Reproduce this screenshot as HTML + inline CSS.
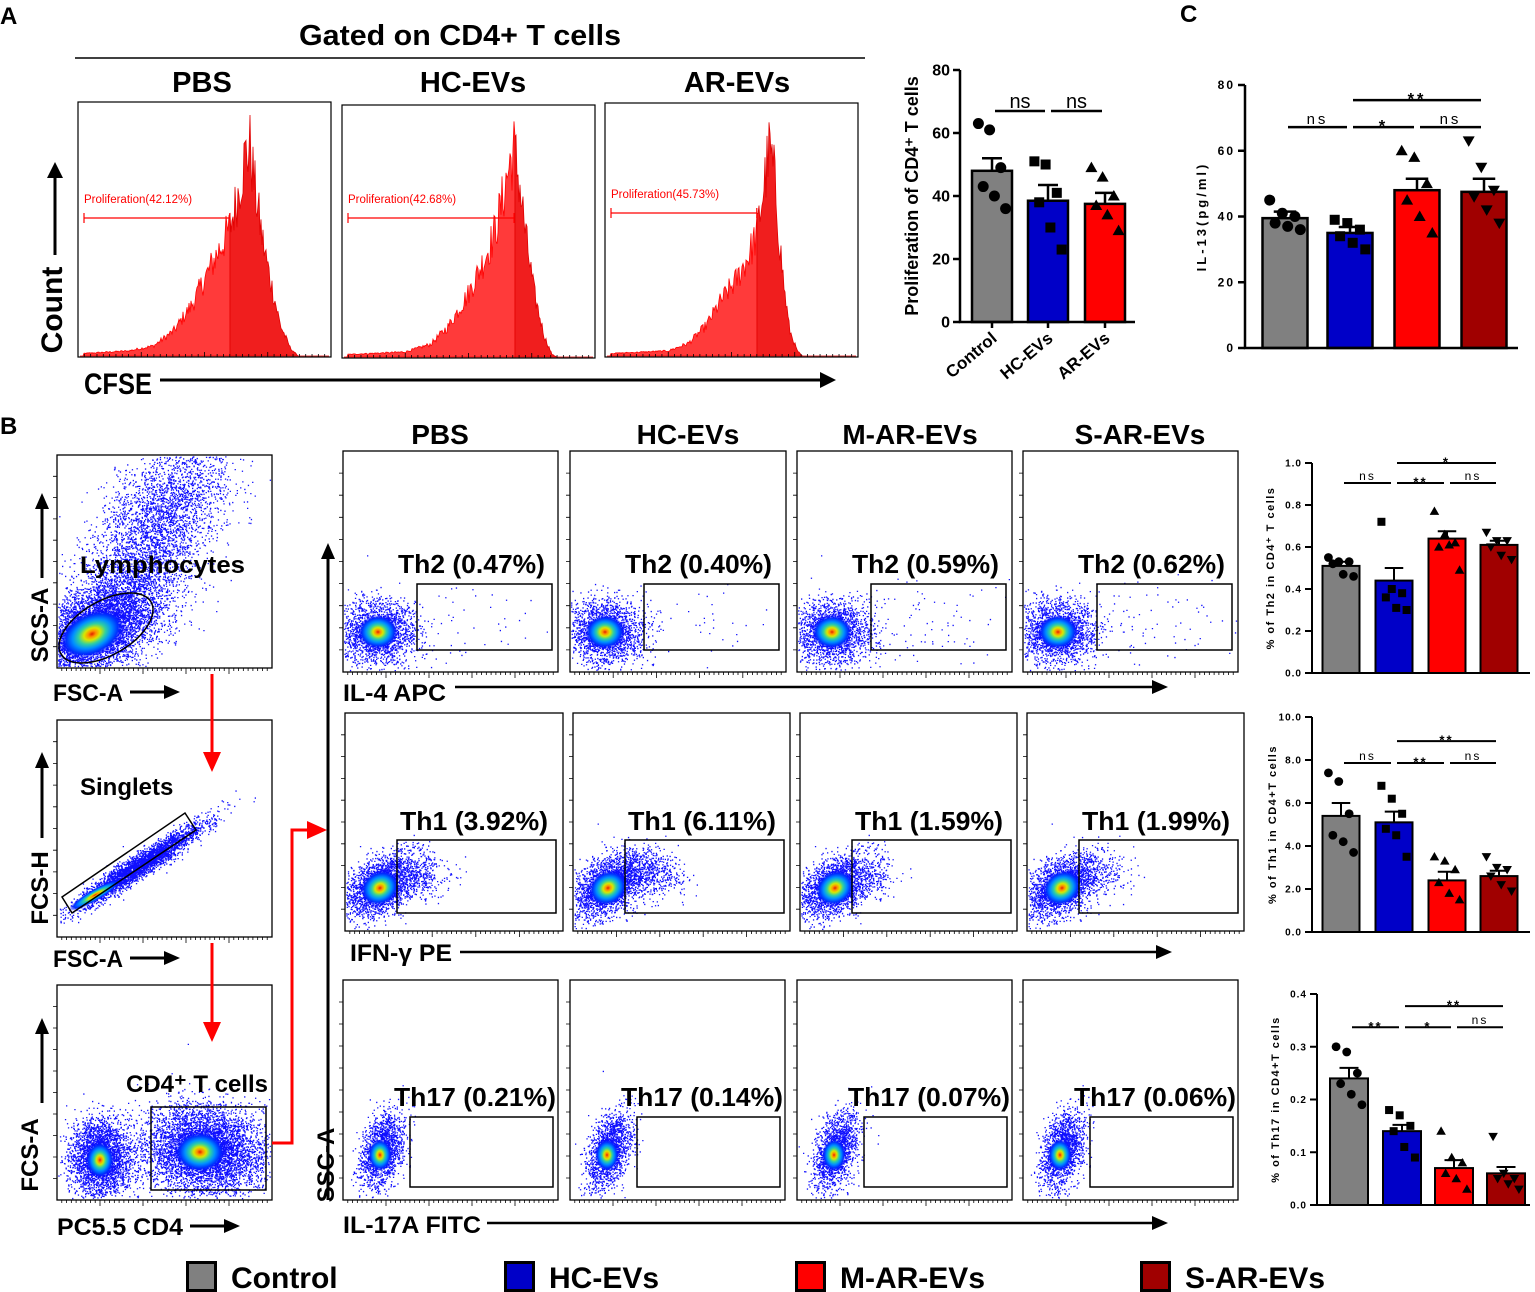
<!DOCTYPE html>
<html><head><meta charset="utf-8"><style>
html,body{margin:0;padding:0;background:#fff}
svg{display:block;font-family:"Liberation Sans",sans-serif}
</style></head><body>
<svg id="fig" width="1535" height="1292" viewBox="0 0 1535 1292" xmlns="http://www.w3.org/2000/svg">
<defs>
<radialGradient id="dens" cx="50%" cy="50%" r="50%">
<stop offset="0" stop-color="#e02000"/><stop offset="0.12" stop-color="#ff9000"/><stop offset="0.25" stop-color="#d8e800"/><stop offset="0.42" stop-color="#30d0a0"/><stop offset="0.6" stop-color="#0090ff"/><stop offset="0.8" stop-color="#0030ff"/><stop offset="1" stop-color="#0000ff" stop-opacity="0"/>
</radialGradient>
</defs>
</svg>
<script>
// ---------- chart data ----------
const groupsA = ['Control','HC-EVs','AR-EVs'];
const meansA = [48, 38.5, 37.5];
const semA = [4, 5, 3.5];
const ptsA = [[63,61,49,43,40,36],[51,50,41,38,30,23],[49,46,40,37,34,29]];
const ticksA = [0,20,40,60,80];

const groupsC = ['Control','HC-EVs','M-AR-EVs','S-AR-EVs'];
const meansC = [39.5, 35, 48, 47.5];
const semC = [2, 1.8, 3.5, 4];
const ptsC = [[45,41,40,38,37,36],[39,38,36,34,32,30],[60,58,50,45,40,35],[63,55,48,46,42,38]];
const ticksC = [0,20,40,60,80];

const meansTh2 = [0.51, 0.44, 0.64, 0.61];
const semTh2 = [0.02, 0.06, 0.035, 0.02];
const ptsTh2 = [[0.55,0.53,0.53,0.52,0.47,0.46],[0.72,0.40,0.38,0.36,0.31,0.30],[0.77,0.66,0.62,0.60,0.61,0.49],[0.67,0.63,0.63,0.60,0.56,0.54]];
const ticksTh2 = [0,0.2,0.4,0.6,0.8,1.0];

const meansTh1 = [5.4, 5.1, 2.4, 2.6];
const semTh1 = [0.6, 0.5, 0.4, 0.25];
const ptsTh1 = [[7.4,7.0,5.5,4.5,4.2,3.7],[6.8,6.2,5.5,4.8,4.5,3.5],[3.5,3.3,2.9,2.3,1.8,1.5],[3.5,3.0,2.9,2.6,2.2,1.9]];
const ticksTh1 = [0,2,4,6,8,10];

const meansTh17 = [0.24, 0.14, 0.07, 0.06];
const semTh17 = [0.02, 0.012, 0.015, 0.012];
const ptsTh17 = [[0.30,0.29,0.25,0.23,0.21,0.19],[0.18,0.17,0.15,0.14,0.11,0.09],[0.14,0.09,0.08,0.06,0.05,0.03],[0.13,0.06,0.05,0.05,0.04,0.03]];
const ticksTh17 = [0,0.1,0.2,0.3,0.4];

const histPct = ['Proliferation(42.12%)','Proliferation(42.68%)','Proliferation(45.73%)'];
const flowCols = ['PBS','HC-EVs','M-AR-EVs','S-AR-EVs'];
const th2Labels = ['Th2 (0.47%)','Th2 (0.40%)','Th2 (0.59%)','Th2 (0.62%)'];
const th1Labels = ['Th1 (3.92%)','Th1 (6.11%)','Th1 (1.59%)','Th1 (1.99%)'];
const th17Labels = ['Th17 (0.21%)','Th17 (0.14%)','Th17 (0.07%)','Th17 (0.06%)'];

// ---------- helpers ----------
const NS = 'http://www.w3.org/2000/svg';
const svg = document.getElementById('fig');
function mk(tag, attrs, parent) {
  const e = document.createElementNS(NS, tag);
  for (const k in attrs) e.setAttribute(k, attrs[k]);
  (parent || svg).appendChild(e);
  return e;
}
function txt(s, attrs, parent, name) {
  const t = mk('text', attrs, parent);
  t.textContent = s;
  
  
  return t;
}
let seed = 12345;
function rnd() { seed = (seed * 1103515245 + 12345) % 2147483648; return seed / 2147483648; }
function gauss() { let u = rnd() || 1e-6, v = rnd(); return Math.sqrt(-2 * Math.log(u)) * Math.cos(2 * Math.PI * v); }

// ---------- bar charts ----------
const colors = ['#808080','#0000c8','#ff0000','#a00000'];
const markers = ['circle','square','tri','itri'];
function marker(g, type, x, y, s) {
  let e;
  if (type === 'circle') e = mk('circle', {cx:x, cy:y, r:s*0.55, fill:'#000'}, g);
  else if (type === 'square') e = mk('rect', {x:x-s*0.5, y:y-s*0.5, width:s, height:s, fill:'#000'}, g);
  else if (type === 'tri') e = mk('path', {d:`M${x},${y-s*0.6}L${x+s*0.6},${y+s*0.45}L${x-s*0.6},${y+s*0.45}z`, fill:'#000'}, g);
  else e = mk('path', {d:`M${x},${y+s*0.6}L${x+s*0.6},${y-s*0.45}L${x-s*0.6},${y-s*0.45}z`, fill:'#000'}, g);
  
  
}
function barChart(o) {
  const g = mk('g', {}, svg);
  
  
  const y = v => o.yBot - (v / o.max) * (o.yBot - o.yTop);
  o.means.forEach((m, i) => {
    const cx = o.centers[i];
    const b = mk('rect', {x:cx - o.bw/2, y:y(m), width:o.bw, height:o.yBot - y(m), fill:o.colors[i], stroke:'#000', 'stroke-width':o.sw}, g);
    
    
    const eb = mk('path', {d:`M${cx},${y(m)}V${y(m + o.sem[i])}M${cx - o.bw*0.25},${y(m + o.sem[i])}H${cx + o.bw*0.25}`, stroke:'#000', 'stroke-width':o.sw, fill:'none'}, g);
    
    
    o.pts[i].forEach((p, k) => {
      const off = ((k % 3) - 1) * o.bw * 0.28 + (k >= 3 ? o.bw * 0.06 : -o.bw * 0.06);
      marker(g, o.markers[i], cx + off, y(p), o.ms);
    });
  });
  const ax = mk('path', {d:`M${o.axisX},${o.yTop}V${o.yBot}H${o.xEnd}`, stroke:'#000', 'stroke-width':o.sw, fill:'none'}, g);
  
  
  o.ticks.forEach(t => {
    const ty = y(t);
    const tk = mk('line', {x1:o.axisX - 7, x2:o.axisX, y1:ty, y2:ty, stroke:'#000', 'stroke-width':o.sw}, g);
    
    
    txt(o.tickFmt(t), {x:o.axisX - 10, y:ty + o.fs*0.35, 'font-size':o.fs, 'font-weight':'bold', 'text-anchor':'end', 'letter-spacing':o.ls||0}, g, 'y-tick-label');
  });
  if (o.xTicks) o.centers.forEach(cx => {
    const tk = mk('line', {x1:cx, x2:cx, y1:o.yBot, y2:o.yBot + 6, stroke:'#000', 'stroke-width':o.sw}, g);
    
    
  });
  o.sig.forEach(s => {
    const [i, j, v, lab] = s;
    const x1 = o.centers[i] + 3, x2 = o.centers[j] - 3, ly = y(v);
    const l = mk('line', {x1, x2, y1:ly, y2:ly, stroke:'#000', 'stroke-width':o.sw}, g);
    
    
    const star = lab.includes('*');
    txt(lab, {x:(x1 + x2)/2, y:ly + (star ? o.sfs*0.3 : -3), 'font-size':star ? o.sfs*1.1 : o.sfs, 'font-weight':star ? 'bold' : 'normal', 'text-anchor':'middle', 'letter-spacing':o.sls||0}, g, 'significance-label');
  });
  txt(o.ylabel, {x:0, y:0, 'font-size':o.yfs, 'font-weight':'bold', 'text-anchor':'middle', 'letter-spacing':o.yls||0, transform:`translate(${o.ylx},${(o.yTop + o.yBot)/2}) rotate(-90)`}, g, 'y-axis-title');
  return g;
}

barChart({name:'proliferation-chart', axisX:960, yTop:70, yBot:322, xEnd:1135, max:80, ticks:ticksA, tickFmt:t=>String(t), fs:16,
  centers:[992,1048,1105], bw:40, colors:['#808080','#0000c8','#ff0000'], markers:['circle','square','tri'],
  means:meansA, sem:semA, pts:ptsA, sw:2.5, ms:10, xTicks:true,
  sig:[[0,1,67,'ns'],[1,2,67,'ns']], sfs:20, ylabel:'Proliferation of CD4⁺ T cells', ylx:918, yfs:18});
groupsA.forEach((n, i) => {
  txt(n, {x:0, y:0, 'font-size':17, 'font-weight':'bold', 'text-anchor':'end', transform:`translate(${[998,1054,1111][i]},${340}) rotate(-40)`}, svg, 'x-tick-label');
});

barChart({name:'il13-chart', axisX:1245, yTop:85, yBot:348, xEnd:1518, max:80, ticks:ticksC, tickFmt:t=>String(t), fs:12, ls:2,
  centers:[1285,1350,1417,1484], bw:45, colors, markers,
  means:meansC, sem:semC, pts:ptsC, sw:2.5, ms:10, xTicks:false,
  sig:[[0,1,67.2,'ns'],[1,2,67.2,'*'],[2,3,67.2,'ns'],[1,3,75.4,'**']], sfs:15, sls:3, ylabel:'IL-13(pg/ml)', ylx:1206, yfs:13, yls:3});

barChart({name:'th2-chart', axisX:1312, yTop:463, yBot:673, xEnd:1530, max:1.0, ticks:ticksTh2, tickFmt:t=>t.toFixed(1), fs:10, ls:1,
  centers:[1341,1394,1447,1499], bw:37, colors, markers,
  means:meansTh2, sem:semTh2, pts:ptsTh2, sw:2, ms:8, xTicks:false,
  sig:[[0,1,0.905,'ns'],[1,2,0.905,'**'],[2,3,0.905,'ns'],[1,3,1.0,'*']], sfs:12, sls:2, ylabel:'% of Th2 in CD4⁺ T cells', ylx:1274, yfs:11, yls:1.5});

barChart({name:'th1-chart', axisX:1312, yTop:717, yBot:932, xEnd:1530, max:10, ticks:ticksTh1, tickFmt:t=>t.toFixed(1), fs:10, ls:1,
  centers:[1341,1394,1447,1499], bw:37, colors, markers,
  means:meansTh1, sem:semTh1, pts:ptsTh1, sw:2, ms:8, xTicks:false,
  sig:[[0,1,7.86,'ns'],[1,2,7.86,'**'],[2,3,7.86,'ns'],[1,3,8.88,'**']], sfs:12, sls:2, ylabel:'% of Th1 in CD4+T cells', ylx:1276, yfs:11, yls:1.5});

barChart({name:'th17-chart', axisX:1317, yTop:994, yBot:1205, xEnd:1530, max:0.4, ticks:ticksTh17, tickFmt:t=>t.toFixed(1), fs:10, ls:1,
  centers:[1349,1402,1454,1506], bw:38, colors, markers,
  means:meansTh17, sem:semTh17, pts:ptsTh17, sw:2, ms:8, xTicks:false,
  sig:[[0,1,0.337,'**'],[1,2,0.337,'*'],[2,3,0.337,'ns'],[1,3,0.377,'**']], sfs:12, sls:2, ylabel:'% of Th17 in CD4+T cells', ylx:1279, yfs:11, yls:1.5});

// ---------- panel labels ----------
txt('A', {x:0, y:24, 'font-size':24, 'font-weight':'bold'}, svg, 'panel-label-a');
txt('B', {x:0, y:434, 'font-size':24, 'font-weight':'bold'}, svg, 'panel-label-b');
txt('C', {x:1180, y:22, 'font-size':24, 'font-weight':'bold'}, svg, 'panel-label-c');

// ---------- histograms (panel A) ----------
txt('Gated on CD4+ T cells', {x:460, y:45, 'font-size':29, 'font-weight':'bold', 'text-anchor':'middle', textLength:322, lengthAdjust:'spacingAndGlyphs'}, svg, 'gating-title');
const tl = mk('line', {x1:75, x2:865, y1:58, y2:58, stroke:'#000', 'stroke-width':1.5});


const histBoxes = [[78,102,253,255],[342,105,253,253],[605,103,253,254]];
const histHeads = [['PBS',202],['HC-EVs',473],['AR-EVs',737]];
const histProfiles = [
  [[0.02,0.01],[0.2,0.02],[0.3,0.04],[0.38,0.1],[0.45,0.2],[0.5,0.3],[0.55,0.4],[0.6,0.5],[0.63,0.62],[0.66,0.78],[0.68,0.82],[0.7,0.65],[0.73,0.45],[0.76,0.3],[0.8,0.12],[0.84,0.03],[0.87,0]],
  [[0.02,0.01],[0.25,0.02],[0.35,0.05],[0.42,0.12],[0.5,0.25],[0.56,0.38],[0.6,0.48],[0.63,0.6],[0.66,0.75],[0.68,0.82],[0.7,0.7],[0.73,0.45],[0.76,0.25],[0.8,0.08],[0.83,0.01],[0.85,0]],
  [[0.02,0.01],[0.25,0.02],[0.33,0.05],[0.4,0.12],[0.46,0.22],[0.52,0.3],[0.57,0.4],[0.6,0.48],[0.63,0.68],[0.65,0.82],[0.67,0.7],[0.69,0.45],[0.71,0.25],[0.73,0.1],[0.76,0.02],[0.78,0]]
];
const gateFx = [0.6, 0.68, 0.6];
const gateLineY = [218, 218, 213];
histBoxes.forEach((b, i) => {
  const [bx, by, bw, bh] = b;
  const g = mk('g', {});
  
  
  txt(histHeads[i][0], {x:histHeads[i][1], y:92, 'font-size':29, 'font-weight':'bold', 'text-anchor':'middle'}, g, 'histogram-header');
  const prof = histProfiles[i];
  const interp = f => { for (let k = 0; k < prof.length - 1; k++) { if (f >= prof[k][0] && f <= prof[k+1][0]) { const t = (f - prof[k][0]) / (prof[k+1][0] - prof[k][0]); return prof[k][1] + t * (prof[k+1][1] - prof[k][1]); } } return 0; };
  const base = by + bh - 1;
  let dL = `M${bx+2},${base}`, dR = '';
  const gx = bx + gateFx[i] * bw;
  let started = false;
  for (let x = bx + 2; x < bx + bw - 2; x += 1) {
    const h = interp((x - bx) / bw) * bh * (0.82 + 0.36 * rnd());
    if (x < gx) dL += `L${x},${base - h}`;
    else { if (!started) { dL += `L${x},${base - h}L${x},${base}z`; dR = `M${x},${base}L${x},${base - h}`; started = true; } else dR += `L${x},${base - h}`; }
  }
  dR += `L${bx + bw - 2},${base}z`;
  const p1 = mk('path', {d:dL, fill:'#ff3a3a', stroke:'#ff0000', 'stroke-width':0.8}, g);
  
  
  const p2 = mk('path', {d:dR, fill:'#f01e1e', stroke:'#e00000', 'stroke-width':0.8}, g);
  
  
  const r = mk('rect', {x:bx, y:by, width:bw, height:bh, fill:'none', stroke:'#000', 'stroke-width':1.2}, g);
  
  
  let tk = '';
  for (let k = 1; k < 40; k++) { const x = bx + k * bw / 40; tk += `M${x},${by+bh}v${k % 10 === 0 ? -5 : -3}`; }
  const t = mk('path', {d:tk, stroke:'#000', 'stroke-width':0.8}, g);
  
  
  const gl = mk('path', {d:`M${bx+6},${gateLineY[i]}H${gx}M${bx+6},${gateLineY[i]-5}v10M${gx},${gateLineY[i]-5}v10`, stroke:'#ff0000', 'stroke-width':1.2}, g);
  
  
  txt(histPct[i], {x:bx + 6, y:gateLineY[i] - 15, 'font-size':11.5, fill:'#ff0000'}, g, 'proliferation-label');
});
txt('Count', {x:0, y:0, 'font-size':30, 'font-weight':'bold', 'text-anchor':'middle', transform:'translate(62,310) rotate(-90)'}, svg, 'y-axis-title-count');
const ca = mk('line', {x1:55, y1:255, x2:55, y2:172, stroke:'#000', 'stroke-width':3});


mk('path', {d:'M55,162l-8,16h16z', fill:'#000'});
txt('CFSE', {x:84, y:394, 'font-size':30, 'font-weight':'bold', textLength:68, lengthAdjust:'spacingAndGlyphs'}, svg, 'x-axis-title-cfse');
const cfa = mk('path', {d:'M160,380H822', stroke:'#000', 'stroke-width':3});


mk('path', {d:'M836,380l-16,-8v16z', fill:'#000'});

// ---------- flow plots ----------
function frame(g, x, y, w, h) {
  const r = mk('rect', {x, y, width:w, height:h, fill:'none', stroke:'#000', 'stroke-width':1.3}, g);
  
  
  let tk = '';
  for (let k = 1; k < 10; k++) tk += `M${x},${y + k*h/10}h-4`;
  for (let k = 1; k < 45; k++) tk += `M${x + k*w/45},${y+h}v${k % 9 === 0 ? 6 : 3}`;
  const t = mk('path', {d:tk, stroke:'#000', 'stroke-width':0.8}, g);
  
  
}
function cloud(g, x0, y0, w, h, cx, cy, sx, sy, rho, n) {
  let d = '';
  for (let k = 0; k < n; k++) {
    const a = gauss(), b = gauss();
    const x = cx + sx * a, y = cy + sy * (rho * a + Math.sqrt(1 - rho*rho) * b);
    if (x < x0 + 1 || x > x0 + w - 2 || y < y0 + 1 || y > y0 + h - 2) continue;
    d += `M${x.toFixed(1)} ${y.toFixed(1)}h1.3v1.3h-1.3z`;
  }
  const p = mk('path', {d, fill:'#1010ff'}, g);
  
  
}
function blob(g, cx, cy, rx, ry, rot) {
  const e = mk('ellipse', {cx, cy, rx, ry, fill:'url(#dens)', transform:`rotate(${rot||0},${cx},${cy})`}, g);
  
  
}

(function () {
  let g = mk('g', {});
  
  
  cloud(g, 57, 455, 215, 213, 150, 540, 40, 60, -0.7, 4500);
  cloud(g, 57, 455, 215, 213, 95, 630, 32, 24, -0.5, 5000);
  blob(g, 92, 634, 34, 22, -25);
  const el = mk('ellipse', {cx:106, cy:628, rx:52, ry:27, transform:'rotate(-30,106,628)', fill:'none', stroke:'#000', 'stroke-width':1.5}, g);
  
  
  frame(g, 57, 455, 215, 213);
  txt('Lymphocytes', {x:80, y:573, 'font-size':24, 'font-weight':'bold', textLength:165, lengthAdjust:'spacingAndGlyphs'}, g, 'gate-label');

  g = mk('g', {});
  
  
  cloud(g, 57, 720, 215, 217, 140, 865, 30, 20, -0.95, 3500);
  blob(g, 95, 895, 30, 6, -30);
  const sg = mk('path', {d:'M62,897L185,813L196,830L72,913z', fill:'none', stroke:'#000', 'stroke-width':1.5}, g);
  
  
  frame(g, 57, 720, 215, 217);
  txt('Singlets', {x:80, y:795, 'font-size':24, 'font-weight':'bold'}, g, 'gate-label');

  g = mk('g', {});
  
  
  cloud(g, 57, 985, 215, 215, 100, 1158, 15, 19, 0, 3000);
  cloud(g, 57, 985, 215, 215, 205, 1150, 30, 22, 0.1, 5500);
  blob(g, 100, 1160, 14, 18, 0);
  blob(g, 200, 1152, 25, 20, 0);
  const cg = mk('rect', {x:151, y:1107, width:115, height:83, fill:'none', stroke:'#000', 'stroke-width':1.5}, g);
  
  
  frame(g, 57, 985, 215, 215);
  txt('CD4⁺ T cells', {x:126, y:1092, 'font-size':24, 'font-weight':'bold', textLength:142, lengthAdjust:'spacingAndGlyphs'}, g, 'gate-label');
})();

function arrowUp(x, y1, y2, name) {
  const l = mk('path', {d:`M${x},${y1}V${y2 + 14}`, stroke:'#000', 'stroke-width':3});
  
  
  mk('path', {d:`M${x},${y2}l-7,16h14z`, fill:'#000'});
}
function arrowRight(x1, x2, y, name, w) {
  const l = mk('path', {d:`M${x1},${y}H${x2 - 12}`, stroke:'#000', 'stroke-width':w || 3});
  
  
  mk('path', {d:`M${x2},${y}l-16,-7v14z`, fill:'#000'});
}
txt('SCS-A', {x:0, y:0, 'font-size':24, 'font-weight':'bold', 'text-anchor':'middle', transform:'translate(48,625) rotate(-90)'}, svg, 'y-axis-title');
arrowUp(42, 578, 493, 'ssc-arrow');
txt('FSC-A', {x:53, y:701, 'font-size':24, 'font-weight':'bold', textLength:70, lengthAdjust:'spacingAndGlyphs'}, svg, 'x-axis-title');
arrowRight(130, 180, 692, 'fsc-arrow');
txt('FCS-H', {x:0, y:0, 'font-size':24, 'font-weight':'bold', 'text-anchor':'middle', transform:'translate(48,888) rotate(-90)'}, svg, 'y-axis-title');
arrowUp(42, 838, 752, 'fsch-arrow');
txt('FSC-A', {x:53, y:967, 'font-size':24, 'font-weight':'bold', textLength:70, lengthAdjust:'spacingAndGlyphs'}, svg, 'x-axis-title');
arrowRight(130, 180, 958, 'fsc-arrow-2');
txt('FCS-A', {x:0, y:0, 'font-size':24, 'font-weight':'bold', 'text-anchor':'middle', transform:'translate(38,1155) rotate(-90)'}, svg, 'y-axis-title');
arrowUp(42, 1103, 1018, 'fsca-arrow');
txt('PC5.5 CD4', {x:57, y:1235, 'font-size':24, 'font-weight':'bold', textLength:126, lengthAdjust:'spacingAndGlyphs'}, svg, 'x-axis-title');
arrowRight(190, 240, 1226, 'cd4-arrow');

const ra1 = mk('path', {d:'M212,674V752', stroke:'#f00', 'stroke-width':3});


mk('path', {d:'M212,772l-9,-20h18z', fill:'#f00'});
const ra2 = mk('path', {d:'M212,943V1022', stroke:'#f00', 'stroke-width':3});


mk('path', {d:'M212,1042l-9,-20h18z', fill:'#f00'});
const ra3 = mk('path', {d:'M272,1143H292V830H308', stroke:'#f00', 'stroke-width':3, fill:'none'});


mk('path', {d:'M327,830l-20,-9v18z', fill:'#f00'});

const colHeadX = [440, 688, 910, 1140];
flowCols.forEach((c, i) => txt(c, {x:colHeadX[i], y:444, 'font-size':28, 'font-weight':'bold', 'text-anchor':'middle'}, svg, 'column-header'));
const rows = [
  {y:451, h:221, boxes:[[343,215],[570,216],[797,215],[1023,215]], gate:[74,133,135,66], lab:th2Labels, labY:573, labDX:55, kind:'th2', lw:147},
  {y:713, h:218, boxes:[[345,218],[573,217],[800,217],[1027,217]], gate:[52,127,159,73], lab:th1Labels, labY:830, labDX:55, kind:'th1', lw:148},
  {y:980, h:220, boxes:[[343,215],[570,215],[797,215],[1023,215]], gate:[67,137,143,70], lab:th17Labels, labY:1106, labDX:51, kind:'th17', lw:162}
];
const spread = {th2:[0.05,0.04,0.08,0.07], th1:[0.12,0.2,0.05,0.06]};
rows.forEach(r => {
  r.boxes.forEach((b, ci) => {
    const [bx, bw] = b;
    const g = mk('g', {});
    
    
    const cx = bx + 35, cy = r.y + r.h - 40;
    if (r.kind === 'th1') {
      cloud(g, bx, r.y, bw, r.h, cx, cy - 5, 18, 15, -0.4, 2200);
      cloud(g, bx, r.y, bw, r.h, cx + 38, cy - 20, 14 + 25*spread.th1[ci], 12, 0.2, Math.round(3000 * spread.th1[ci]));
    } else if (r.kind === 'th17') {
      cloud(g, bx, r.y, bw, r.h, cx + 4, cy - 10, 11, 19, -0.4, 1600);
    } else {
      cloud(g, bx, r.y, bw, r.h, cx, cy, 19, 16, 0, 2000);
      cloud(g, bx, r.y, bw, r.h, bx + 135, cy - 10, 40, 22, 0, Math.round(900 * spread.th2[ci]));
    }
    if (r.kind === 'th17') blob(g, cx + 2, cy - 5, 12, 16, 0);
    else blob(g, cx, cy + (r.kind === 'th1' ? -3 : 0), 20, 17, r.kind === 'th1' ? -30 : 0);
    const gr = mk('rect', {x:bx + r.gate[0], y:r.y + r.gate[1], width:r.gate[2], height:r.gate[3], fill:'none', stroke:'#000', 'stroke-width':1.5}, g);
    
    
    frame(g, bx, r.y, bw, r.h);
    txt(r.lab[ci], {x:bx + r.labDX, y:r.labY, 'font-size':26, 'font-weight':'bold', textLength:r.lw, lengthAdjust:'spacingAndGlyphs'}, g, `${r.kind}-percent-label`);
  });
});
txt('IL-4 APC', {x:343, y:701, 'font-size':24, 'font-weight':'bold', textLength:103, lengthAdjust:'spacingAndGlyphs'}, svg, 'x-axis-title-il4');
arrowRight(455, 1168, 687, 'il4-arrow', 2.5);
txt('IFN-γ PE', {x:350, y:961, 'font-size':24, 'font-weight':'bold', textLength:102, lengthAdjust:'spacingAndGlyphs'}, svg, 'x-axis-title-ifng');
arrowRight(460, 1172, 952, 'ifng-arrow', 2.5);
txt('IL-17A FITC', {x:343, y:1233, 'font-size':24, 'font-weight':'bold', textLength:138, lengthAdjust:'spacingAndGlyphs'}, svg, 'x-axis-title-il17a');
arrowRight(487, 1168, 1223, 'il17a-arrow', 2.5);
txt('SSC-A', {x:0, y:0, 'font-size':24, 'font-weight':'bold', 'text-anchor':'middle', transform:'translate(334,1165) rotate(-90)'}, svg, 'y-axis-title-ssc');
arrowUp(328, 1200, 543, 'ssc-long-arrow');

const legX = [186, 504, 795, 1140];
groupsC.forEach((n, i) => {
  const sw = mk('rect', {x:legX[i] + 1.5, y:1262.5, width:28, height:28, fill:colors[i], stroke:'#000', 'stroke-width':3});
  
  
  txt(n, {x:legX[i] + 45, y:1288, 'font-size':30, 'font-weight':'bold'}, svg, 'legend-entry');
});
</script>
</body></html>
